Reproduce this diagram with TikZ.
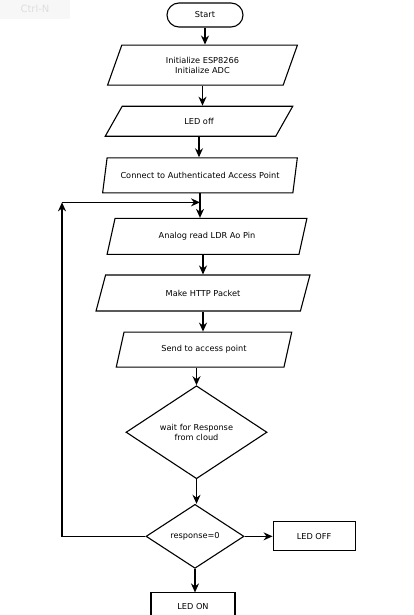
\documentclass[tikz,border=0pt]{standalone}
\usepackage{fontspec}
\setmainfont{DejaVu Sans}
\usetikzlibrary{positioning, arrows.meta, shapes.geometric}

\begin{document}
\begin{tikzpicture}[
  x=1pt, y=-1pt,
  every node/.style={draw, line width=1.1pt, align=center, font=\fontsize{8.2}{10}\selectfont},
  terminal/.style={rectangle, rounded corners=12pt, minimum width=76pt, minimum height=24pt},
  io/.style={trapezium, trapezium left angle=73, trapezium right angle=107, trapezium stretches=true},
  decision/.style={diamond, inner sep=0pt},
  box/.style={rectangle},
  line width=1.3pt,
  ->, >={Stealth[length=9pt, width=8pt]}
]
\useasboundingbox (0,0) rectangle (414,615);
\clip (0,0) rectangle (414,615);

% faint hint in the corner
\node[draw=none, fill=black!3, text=black!13, font=\fontsize{10}{12}\selectfont, minimum width=70pt, minimum height=20pt] (hint) at (35,9) {Ctrl-N};

% Main flow
\node[terminal] (start) at (205,15) {Start};
\node[io, below=17pt of start, xshift=-2.5pt, minimum width=191pt, minimum height=40pt] (init) {Initialize ESP8266\\Initialize ADC};
\node[io, below=20pt of init, xshift=-3.5pt, minimum width=188pt, minimum height=30pt] (ledoff) {LED off};
\node[io, below=20.5pt of ledoff, xshift=1pt, minimum width=195pt, minimum height=35pt] (connect) {Connect to Authenticated Access Point};
\node[io, below=24.5pt of connect, xshift=7pt, minimum width=200pt, minimum height=36pt] (analog) {Analog read LDR Ao Pin};
\node[io, below=19.5pt of analog, xshift=-4pt, minimum width=214pt, minimum height=36pt] (packet) {Make HTTP Packet};
\node[io, below=20pt of packet, xshift=1pt, minimum width=176pt, minimum height=35pt] (send) {Send to access point};
\node[decision, below=17.5pt of send, xshift=-7.5pt, minimum width=141pt, minimum height=93pt] (wait) {wait for Response\\from cloud};
\node[decision, below=24.5pt of wait, xshift=-1.5pt, minimum width=98pt, minimum height=64pt] (resp) {response=0};
\node[box, right=28pt of resp, minimum width=82pt, minimum height=29pt] (offbox) {LED OFF};
\node[box, below=23.5pt of resp, xshift=-2pt, minimum width=84pt, minimum height=28pt] (onbox) {LED ON};

% Loop back
\coordinate[below=9pt of connect.south] (merge);
\coordinate[left=138pt of merge] (corner);

% Connections
\draw (start.south) -- (start.south |- init.north);
\draw (init.south) -- (init.south |- ledoff.north);
\draw (ledoff.south) -- (ledoff.south |- connect.north);
\draw (connect.south) -- (connect.south |- analog.north);
\draw (packet.north |- analog.south) -- (packet.north);
\draw (packet.south) -- (packet.south |- send.north);
\draw (wait.north |- send.south) -- (wait.north);
\draw (wait.south) -- (wait.south |- resp.north);
\draw (resp.east) -- (offbox.west);
\draw (resp.south) -- (resp.south |- onbox.north);
\draw (resp.west) -| (corner);
\draw (corner) -- (merge);

\end{tikzpicture}
\end{document}
